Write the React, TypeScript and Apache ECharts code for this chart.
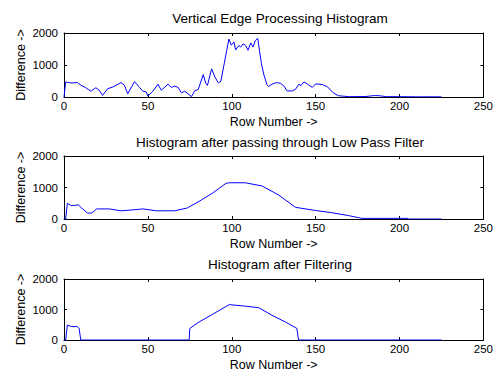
import React, { useEffect, useRef } from "react";
import * as echarts from "echarts";

const titles = [
  "Vertical Edge Processing Histogram",
  "Histogram after passing through Low Pass Filter",
  "Histogram after Filtering",
];
const xTicks = [0, 50, 100, 150, 200, 250];
const yTicks = [0, 1000, 2000];

const edgeHistogram: number[][] = [
  [0, 0], [1, 470], [2, 460], [4, 440], [6, 445], [8, 450], [10, 370], [13, 290], [16, 180],
  [19, 290], [21, 210], [23, 50], [26, 260], [29, 310], [34, 450], [36, 370], [38, 100],
  [42, 480], [45, 300], [47, 180], [49, 160], [50, 30], [53, 180], [56, 400], [58, 210],
  [62, 400], [64, 300], [66, 340], [68, 300], [70, 130], [72, 180], [74, 100], [76, 10],
  [78, 200], [80, 230], [83, 700], [84.5, 430], [85.5, 360], [88, 880], [90, 620], [92, 440],
  [93.5, 490], [95.5, 1040], [97, 1460], [98.3, 1810], [99.7, 1620], [101.3, 1720],
  [102.3, 1470], [104.3, 1610], [105.3, 1560], [106.7, 1660], [108.3, 1610], [109.7, 1460],
  [111.3, 1690], [112.7, 1560], [114.1, 1770], [115.5, 1830], [116.5, 1460], [117.7, 1040],
  [119, 720], [121, 380], [122, 330], [124, 400], [126.5, 450], [129, 430], [131, 350],
  [133, 190], [136, 190], [138, 240], [140, 400], [141.3, 360], [143, 470], [145, 410],
  [148, 300], [150, 410], [154, 390], [157, 320], [160.5, 130], [163.5, 40], [170, 10],
  [180, 15], [185, 45], [188, 40], [192, 10], [200, 10], [210, 5], [220, 5], [225, 5],
];

const lowPassHistogram: number[][] = [
  [0, 0], [1, 0], [2, 500], [4, 430], [6, 430], [8.5, 450], [10.5, 350], [14, 190], [16.5, 190],
  [19.5, 320], [27, 320], [34, 260], [41, 290], [47, 320], [55, 260], [66, 260], [73.5, 350],
  [80.5, 560], [88.5, 820], [96.5, 1130], [98.5, 1150], [108, 1150], [118, 1050], [128, 760],
  [138, 370], [150, 270], [159.5, 200], [169.5, 110], [177.5, 20], [205, 20], [205.5, 0],
  [225, 0],
];

const filteredHistogram: number[][] = [
  [0, 0], [1, 0], [2, 490], [4.5, 440], [8, 440], [9, 380], [10, 0], [74.6, 0], [75, 380],
  [80.5, 590], [88.5, 840], [98.5, 1160], [108, 1110], [116, 1060], [124, 810], [132, 590],
  [138.8, 380], [139.8, 0], [225, 0],
];

const seriesData = [edgeHistogram, lowPassHistogram, filteredHistogram];

const FONT = "Liberation Sans, Arial, Helvetica, sans-serif";
const gridTops = [33, 156, 279];
const gridHeights = [64, 63, 61];
const titleTops = [6, 130, 252];

export default function App() {
  const ref = useRef<HTMLDivElement>(null);
  useEffect(() => {
    if (!ref.current) return;
    const chart = echarts.init(ref.current, null, { renderer: "svg" });
    const grids: any[] = [];
    const xAxes: any[] = [];
    const yAxes: any[] = [];
    const series: any[] = [];
    const title: any[] = [];
    const axisLine = { show: true, onZero: false, lineStyle: { color: "#000", width: 1 } };
    const tick = { show: true, inside: true, length: 3, lineStyle: { color: "#000" } };
    const label = { color: "#000", fontSize: 11.5, fontFamily: FONT };
    const nameStyle = { color: "#000", fontSize: 12.5, fontFamily: FONT };
    for (let i = 0; i < 3; i++) {
      grids.push({ left: 64, right: 10, top: gridTops[i], height: gridHeights[i], containLabel: false });
      title.push({
        text: titles[i],
        left: 275,
        textAlign: "center",
        top: titleTops[i],
        textStyle: { color: "#000", fontSize: 13.5, fontWeight: "normal", fontFamily: FONT },
      });
      xAxes.push({
        type: "value", gridIndex: i, position: "bottom", min: xTicks[0], max: xTicks[xTicks.length - 1],
        interval: 50, axisLine, axisTick: tick, splitLine: { show: false },
        axisLabel: { ...label, margin: 3, formatter: (v: number) => String(v) },
        name: "Row Number ->", nameLocation: "middle", nameGap: 18, nameMoveOverlap: false,
        nameTextStyle: nameStyle,
      });
      xAxes.push({
        type: "value", gridIndex: i, position: "top", min: xTicks[0], max: xTicks[xTicks.length - 1],
        interval: 50, axisLine, axisTick: tick, splitLine: { show: false }, axisLabel: { show: false },
      });
      yAxes.push({
        type: "value", gridIndex: i, position: "left", min: yTicks[0], max: yTicks[yTicks.length - 1],
        interval: 1000, axisLine, axisTick: tick, splitLine: { show: false },
        axisLabel: { ...label, margin: 6, formatter: (v: number) => String(v) },
        name: "Difference ->", nameLocation: "middle", nameGap: 37, nameMoveOverlap: false,
        nameTextStyle: nameStyle,
      });
      yAxes.push({
        type: "value", gridIndex: i, position: "right", min: yTicks[0], max: yTicks[yTicks.length - 1],
        interval: 1000, axisLine, axisTick: tick, splitLine: { show: false }, axisLabel: { show: false },
      });
      series.push({
        type: "line", xAxisIndex: 2 * i, yAxisIndex: 2 * i, data: seriesData[i],
        showSymbol: false, symbol: "none", lineStyle: { color: "#0000ff", width: 1 },
        itemStyle: { color: "#0000ff" },
      });
    }
    chart.setOption({
      animation: false,
      backgroundColor: "#fff",
      title,
      grid: grids,
      xAxis: xAxes,
      yAxis: yAxes,
      series,
    });
    return () => chart.dispose();
  }, []);
  return (
    <div
      ref={ref}
      style={{ position: "fixed", left: 0, top: 0, width: 496, height: 374 }}
    />
  );
}
